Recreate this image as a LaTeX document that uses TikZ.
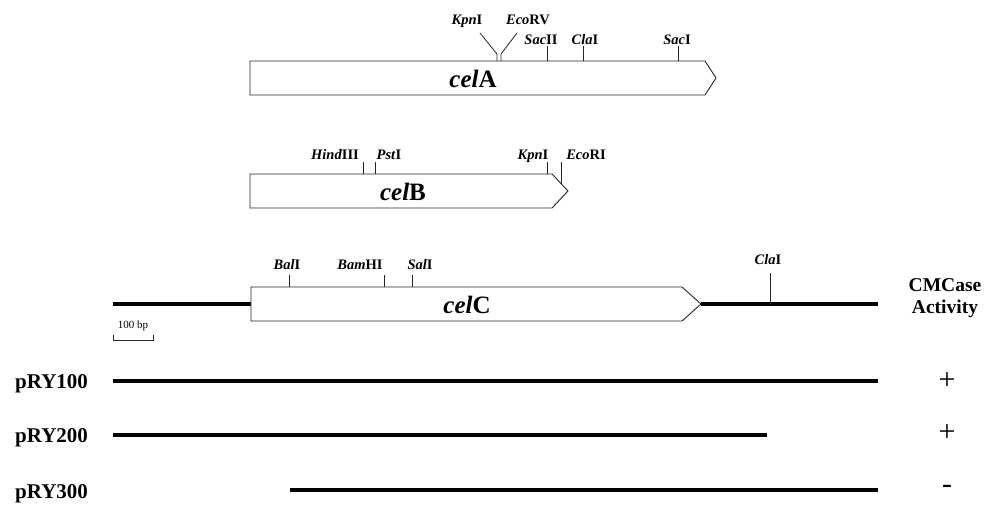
\documentclass[tikz,border=0pt]{standalone}
\usepackage{fontspec}
\setmainfont{Liberation Serif}
\begin{document}
\begin{tikzpicture}[x=1pt,y=-1pt,
  gene/.style={draw=black!85, line width=0.9pt, fill=white, line join=miter},
  dna/.style={line width=4pt, black},
  site/.style={line width=0.8pt, black!85},
  enz/.style={font=\fontsize{14.5}{16}\selectfont\bfseries, inner sep=0pt, anchor=base},
  genename/.style={font=\fontsize{25}{28}\selectfont\bfseries, inner sep=0pt},
  rowlab/.style={font=\fontsize{21}{24}\selectfont\bfseries, inner sep=0pt, anchor=base west},
  headlab/.style={font=\fontsize{19.5}{20}\selectfont\bfseries, inner sep=0pt, anchor=base},
  sign/.style={font=\fontsize{30}{32}\selectfont, inner sep=0pt}]
\useasboundingbox (0,0) rectangle (992,504);

% ---- celA ----
\draw[gene] (250,61) -- (705,61) -- (716,78) -- (705,95) -- (250,95) -- cycle;
\node[genename] (celA) at (473,79) {\textit{cel}A};
\draw[site] (497,61) -- (497,54) -- (480,33);
\draw[site] (501,61) -- (501,54) -- (517,33);
\draw[site] (547,61) -- (547,46);
\draw[site] (583,61) -- (583,46);
\draw[site] (678,61) -- (678,46);
\node[enz] (kpnA) at (467,24) {\textit{Kpn}I};
\node[enz] (ecorv) at (528,24) {\textit{Eco}RV};
\node[enz] (sacii) at (541,44) {\textit{Sac}II};
\node[enz] (claA) at (585,44) {\textit{Cla}I};
\node[enz] (saci) at (677,44) {\textit{Sac}I};

% ---- celB ----
\draw[gene] (250,174) -- (552,174) -- (568,191) -- (552,208) -- (250,208) -- cycle;
\node[genename] (celB) at (403,192) {\textit{cel}B};
\draw[site] (363,174) -- (363,162);
\draw[site] (375,174) -- (375,162);
\draw[site] (547,174) -- (547,162);
\draw[site] (561,183.5) -- (561,162);
\node[enz] (hind) at (335,159) {\textit{Hind}III};
\node[enz] (pst) at (389,159) {\textit{Pst}I};
\node[enz] (kpnB) at (533,159) {\textit{Kpn}I};
\node[enz] (ecori) at (586,159) {\textit{Eco}RI};

% ---- celC with flanking DNA ----
\coordinate (cL) at (113,304);
\coordinate (cR) at (878,304);
\draw[dna] (cL) -- (251,304);
\draw[dna] (701,304) -- (cR);
\draw[gene] (251,287) -- (682,287) -- (701,304) -- (682,321) -- (251,321) -- cycle;
\node[genename] (celC) at (467,305) {\textit{cel}C};
\draw[site] (289,287) -- (289,275);
\draw[site] (384,287) -- (384,275);
\draw[site] (412,287) -- (412,275);
\draw[site] (770,304) -- (770,273);
\node[enz] (bal) at (287,269) {\textit{Bal}I};
\node[enz] (bam) at (360,269) {\textit{Bam}HI};
\node[enz] (sal) at (420,269) {\textit{Sal}I};
\node[enz] (claC) at (768,264) {\textit{Cla}I};

% scale bar
\node[font=\fontsize{11}{12}\selectfont, inner sep=0pt] (bp) at (133,326) {100 bp};
\draw[line width=1pt, black!85] (113,335) -- (113,340) -- (153,340) -- (153,335);

% activity header, two separate lines
\node[headlab] (cmc) at (945,291) {CMCase};
\node[headlab] (act) at (945,313) {Activity};

% ---- subclones ----
\node[rowlab] (p100) at (15,388) {pRY100};
\node[rowlab] (p200) at (15,442) {pRY200};
\node[rowlab] (p300) at (15,498) {pRY300};
\draw[dna] (113,381) -- (878,381);
\draw[dna] (113,435) -- (767,435);
\draw[dna] (290,490) -- (878,490);
\node[sign] (s100) at (947,381) {+};
\node[sign] (s200) at (947,433) {+};
\node[sign] (s300) at (947,489) {-};
\end{tikzpicture}
\end{document}
